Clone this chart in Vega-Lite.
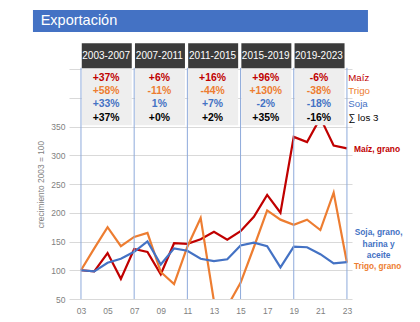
{
  "$schema": "https://vega.github.io/schema/vega-lite/v6.json",
  "width": 283,
  "height": 230,
  "autosize": {"type": "none"},
  "padding": {"left": 69, "top": 69, "right": 68, "bottom": 23},
  "background": "white",
  "config": {"view": {"stroke": null}, "font": "Liberation Sans", "axis": {"labelOverlap": false, "labelFlush": false}},
  "datasets": {
    "series": [
      {"year": 2003, "serie": "Maíz", "v": 100}, {"year": 2004, "serie": "Maíz", "v": 98}, {"year": 2005, "serie": "Maíz", "v": 130}, {"year": 2006, "serie": "Maíz", "v": 85}, {"year": 2007, "serie": "Maíz", "v": 137}, {"year": 2008, "serie": "Maíz", "v": 132}, {"year": 2009, "serie": "Maíz", "v": 93}, {"year": 2010, "serie": "Maíz", "v": 147}, {"year": 2011, "serie": "Maíz", "v": 146}, {"year": 2012, "serie": "Maíz", "v": 154}, {"year": 2013, "serie": "Maíz", "v": 167}, {"year": 2014, "serie": "Maíz", "v": 153}, {"year": 2015, "serie": "Maíz", "v": 168}, {"year": 2016, "serie": "Maíz", "v": 193}, {"year": 2017, "serie": "Maíz", "v": 231}, {"year": 2018, "serie": "Maíz", "v": 200}, {"year": 2019, "serie": "Maíz", "v": 332}, {"year": 2020, "serie": "Maíz", "v": 323}, {"year": 2021, "serie": "Maíz", "v": 365}, {"year": 2022, "serie": "Maíz", "v": 317}, {"year": 2023, "serie": "Maíz", "v": 312},
      {"year": 2003, "serie": "Trigo", "v": 100}, {"year": 2004, "serie": "Trigo", "v": 138}, {"year": 2005, "serie": "Trigo", "v": 175}, {"year": 2006, "serie": "Trigo", "v": 142}, {"year": 2007, "serie": "Trigo", "v": 158}, {"year": 2008, "serie": "Trigo", "v": 165}, {"year": 2009, "serie": "Trigo", "v": 97}, {"year": 2010, "serie": "Trigo", "v": 76}, {"year": 2011, "serie": "Trigo", "v": 141}, {"year": 2012, "serie": "Trigo", "v": 191}, {"year": 2013, "serie": "Trigo", "v": 46}, {"year": 2014, "serie": "Trigo", "v": 37}, {"year": 2015, "serie": "Trigo", "v": 78}, {"year": 2016, "serie": "Trigo", "v": 140}, {"year": 2017, "serie": "Trigo", "v": 204}, {"year": 2018, "serie": "Trigo", "v": 188}, {"year": 2019, "serie": "Trigo", "v": 179}, {"year": 2020, "serie": "Trigo", "v": 188}, {"year": 2021, "serie": "Trigo", "v": 170}, {"year": 2022, "serie": "Trigo", "v": 235}, {"year": 2023, "serie": "Trigo", "v": 113},
      {"year": 2003, "serie": "Soja", "v": 100}, {"year": 2004, "serie": "Soja", "v": 98}, {"year": 2005, "serie": "Soja", "v": 113}, {"year": 2006, "serie": "Soja", "v": 120}, {"year": 2007, "serie": "Soja", "v": 132}, {"year": 2008, "serie": "Soja", "v": 150}, {"year": 2009, "serie": "Soja", "v": 110}, {"year": 2010, "serie": "Soja", "v": 138}, {"year": 2011, "serie": "Soja", "v": 134}, {"year": 2012, "serie": "Soja", "v": 120}, {"year": 2013, "serie": "Soja", "v": 116}, {"year": 2014, "serie": "Soja", "v": 119}, {"year": 2015, "serie": "Soja", "v": 143}, {"year": 2016, "serie": "Soja", "v": 148}, {"year": 2017, "serie": "Soja", "v": 142}, {"year": 2018, "serie": "Soja", "v": 105}, {"year": 2019, "serie": "Soja", "v": 141}, {"year": 2020, "serie": "Soja", "v": 140}, {"year": 2021, "serie": "Soja", "v": 128}, {"year": 2022, "serie": "Soja", "v": 112}, {"year": 2023, "serie": "Soja", "v": 114}
    ],
    "periods": [
      {"start": 2003, "end": 2007, "label": "2003-2007", "maiz": "+37%", "trigo": "+58%", "soja": "+33%", "total": "+37%"},
      {"start": 2007, "end": 2011, "label": "2007-2011", "maiz": "+6%", "trigo": "-11%", "soja": "1%", "total": "+0%"},
      {"start": 2011, "end": 2015, "label": "2011-2015", "maiz": "+16%", "trigo": "-44%", "soja": "+7%", "total": "+2%"},
      {"start": 2015, "end": 2019, "label": "2015-2019", "maiz": "+96%", "trigo": "+130%", "soja": "-2%", "total": "+35%"},
      {"start": 2019, "end": 2023, "label": "2019-2023", "maiz": "-6%", "trigo": "-38%", "soja": "-18%", "total": "-16%"}
    ],
    "bounds": [{"year": 2003}, {"year": 2007}, {"year": 2011}, {"year": 2015}, {"year": 2019}, {"year": 2023}],
    "one": [{}]
  },
  "layer": [
    {
      "data": {"name": "series"},
      "mark": {"type": "line", "strokeWidth": 2.2, "clip": true},
      "encoding": {
        "x": {"field": "year", "type": "quantitative", "scale": {"domain": [2002.1, 2023.38], "nice": false, "zero": false},
          "axis": {"title": null, "values": [2003, 2005, 2007, 2009, 2011, 2013, 2015, 2017, 2019, 2021, 2023], "tickCount": 30, "labelExpr": "substring(toString(datum.value), 2)", "labelOverlap": false, "grid": false, "domain": false, "ticks": false, "labelColor": "#7f7f7f", "labelFontSize": 8.5, "labelPadding": 7, "labelFlush": false}},
        "y": {"field": "v", "type": "quantitative", "scale": {"domain": [50, 450], "nice": false, "zero": false},
          "axis": {"title": "crecimiento 2003 = 100", "titleColor": "#7f7f7f", "titleFontSize": 8.4, "titleFontWeight": "normal", "titlePadding": 5, "values": [50, 100, 150, 200, 250, 300, 350, 400, 450], "tickCount": 30, "labelExpr": "datum.value <= 350 ? datum.label : ''", "labelOverlap": false, "grid": true, "gridColor": "#d9d9d9", "domain": false, "ticks": false, "labelColor": "#7f7f7f", "labelFontSize": 8.5, "labelPadding": 4, "labelFlush": false}},
        "color": {"field": "serie", "type": "nominal", "scale": {"domain": ["Soja", "Trigo", "Maíz"], "range": ["#4472c4", "#ed7d31", "#c00000"]}, "legend": null}
      }
    },
    {
      "data": {"name": "periods"},
      "mark": {"type": "rect", "color": "#eeeeee", "xOffset": 0.8, "x2Offset": -2.4},
      "encoding": {
        "x": {"field": "start", "type": "quantitative"},
        "x2": {"field": "end"},
        "y": {"datum": 451},
        "y2": {"datum": 352}
      }
    },
    {
      "data": {"name": "bounds"},
      "mark": {"type": "rule", "color": "#8eaadb", "strokeWidth": 1},
      "encoding": {
        "x": {"field": "year", "type": "quantitative"},
        "y": {"datum": 50},
        "y2": {"datum": 452}
      }
    },
    {
      "data": {"name": "periods"},
      "mark": {"type": "rect", "color": "#3b3b3b", "xOffset": 0.8, "x2Offset": -2.4},
      "encoding": {
        "x": {"field": "start", "type": "quantitative"},
        "x2": {"field": "end"},
        "y": {"datum": 451.4},
        "y2": {"datum": 494.8}
      }
    },
    {
      "data": {"name": "periods"},
      "mark": {"type": "text", "color": "white", "fontSize": 10, "dx": 25.2, "baseline": "middle", "align": "center"},
      "encoding": {
        "x": {"field": "start", "type": "quantitative"},
        "y": {"datum": 473.1},
        "text": {"field": "label"}
      }
    },
    {
      "data": {"name": "periods"},
      "mark": {"type": "text", "color": "#c00000", "fontSize": 10.4, "fontWeight": "bold", "dx": 25.2, "baseline": "middle", "align": "center"},
      "encoding": {"x": {"field": "start", "type": "quantitative"}, "y": {"datum": 435.1}, "text": {"field": "maiz"}}
    },
    {
      "data": {"name": "periods"},
      "mark": {"type": "text", "color": "#ed7d31", "fontSize": 10.4, "fontWeight": "bold", "dx": 25.2, "baseline": "middle", "align": "center"},
      "encoding": {"x": {"field": "start", "type": "quantitative"}, "y": {"datum": 412.5}, "text": {"field": "trigo"}}
    },
    {
      "data": {"name": "periods"},
      "mark": {"type": "text", "color": "#4472c4", "fontSize": 10.4, "fontWeight": "bold", "dx": 25.2, "baseline": "middle", "align": "center"},
      "encoding": {"x": {"field": "start", "type": "quantitative"}, "y": {"datum": 388.9}, "text": {"field": "soja"}}
    },
    {
      "data": {"name": "periods"},
      "mark": {"type": "text", "color": "#000000", "fontSize": 10.4, "fontWeight": "bold", "dx": 25.2, "baseline": "middle", "align": "center"},
      "encoding": {"x": {"field": "start", "type": "quantitative"}, "y": {"datum": 365.6}, "text": {"field": "total"}}
    },
    {
      "data": {"name": "one"},
      "mark": {"type": "text", "text": "Maíz", "color": "#c00000", "fontSize": 9.7, "align": "left", "baseline": "middle"},
      "encoding": {"x": {"datum": 2023.1}, "y": {"datum": 435.1}}
    },
    {
      "data": {"name": "one"},
      "mark": {"type": "text", "text": "Trigo", "color": "#ed7d31", "fontSize": 9.7, "align": "left", "baseline": "middle"},
      "encoding": {"x": {"datum": 2023.1}, "y": {"datum": 412.5}}
    },
    {
      "data": {"name": "one"},
      "mark": {"type": "text", "text": "Soja", "color": "#4472c4", "fontSize": 9.7, "align": "left", "baseline": "middle"},
      "encoding": {"x": {"datum": 2023.1}, "y": {"datum": 388.9}}
    },
    {
      "data": {"name": "one"},
      "mark": {"type": "text", "text": "∑ los 3", "color": "#000000", "fontSize": 9.7, "align": "left", "baseline": "middle"},
      "encoding": {"x": {"datum": 2023.1}, "y": {"datum": 365.6}}
    },
    {
      "data": {"name": "one"},
      "mark": {"type": "text", "text": "Maíz, grano", "color": "#c00000", "fontSize": 8.4, "fontWeight": "bold", "align": "left", "baseline": "middle"},
      "encoding": {"x": {"datum": 2023.53}, "y": {"datum": 311.2}}
    },
    {
      "data": {"name": "one"},
      "mark": {"type": "text", "text": ["Soja, grano,", "harina y", "aceite"], "lineHeight": 11.3, "color": "#4472c4", "fontSize": 8.4, "fontWeight": "bold", "align": "center", "baseline": "middle"},
      "encoding": {"x": {"datum": 2025.38}, "y": {"datum": 165.8}}
    },
    {
      "data": {"name": "one"},
      "mark": {"type": "text", "text": "Trigo, grano", "color": "#ed7d31", "fontSize": 8.2, "fontWeight": "bold", "align": "left", "baseline": "middle"},
      "encoding": {"x": {"datum": 2023.53}, "y": {"datum": 105}}
    },
    {
      "data": {"name": "one"},
      "mark": {"type": "rect", "color": "#4472c4"},
      "encoding": {"x": {"datum": 1999.39}, "x2": {"datum": 2024.58}, "y": {"datum": 552.7}, "y2": {"datum": 514.4}}
    },
    {
      "data": {"name": "one"},
      "mark": {"type": "text", "text": "Exportación", "color": "white", "fontSize": 14.5, "align": "left", "baseline": "middle"},
      "encoding": {"x": {"datum": 1999.97}, "y": {"datum": 533.5}}
    }
  ]
}
